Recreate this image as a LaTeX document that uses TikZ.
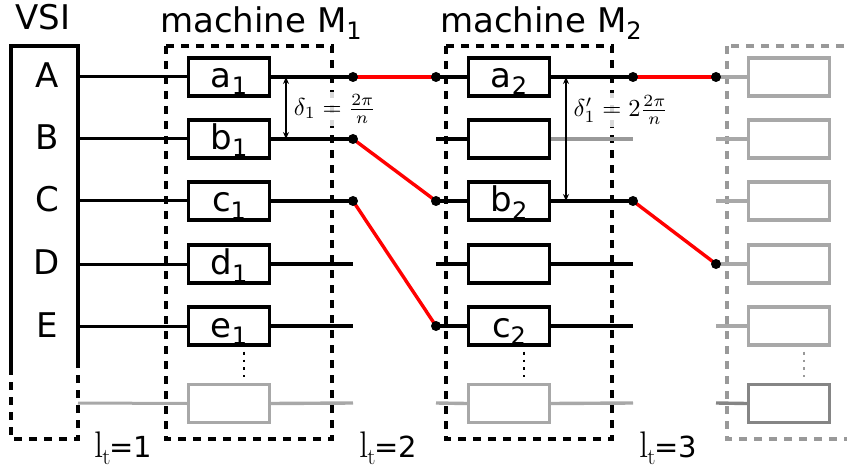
\documentclass[tikz,border=0pt]{standalone}
\usepackage{fontspec}
\setsansfont{DejaVu Sans}
\usetikzlibrary{arrows.meta}
\definecolor{lgray}{HTML}{A8A8A8}
\definecolor{mgray}{HTML}{999999}
\definecolor{dgray}{HTML}{858585}
\newcommand\lowsub[1]{\raisebox{-7pt}{\fontsize{24}{24}\selectfont #1}}
\newcommand\ltlabel[1]{{\rmfamily\fontsize{37}{37}\selectfont l\kern-1pt\raisebox{-7pt}{\fontsize{23}{23}\selectfont t}}\kern-1pt{\sffamily\fontsize{29}{29}\selectfont =#1}}
\begin{document}
\begin{tikzpicture}[x=1pt,y=-1pt,
  box/.style={draw, line width=3.4pt, minimum width=81pt, minimum height=38pt, inner sep=0pt,
    text height=26pt, text depth=4pt, font=\sffamily\fontsize{34}{34}\selectfont},
  wire/.style={line width=3.4pt},
  thinwire/.style={line width=3pt},
  redwire/.style={draw=red, line width=3.4pt},
  dot/.style={circle, fill=black, inner sep=0pt, minimum size=10pt},
  frame/.style={draw, line width=3.4pt, dash pattern=on 8pt off 7pt},
  dotline/.style={line width=2.8pt, dash pattern=on 2.8pt off 5pt, shorten <=5pt, shorten >=6pt},
  lbl/.style={font=\sffamily\fontsize{34}{34}\selectfont, inner sep=0pt, anchor=base west},
  rowlbl/.style={font=\sffamily\fontsize{34}{34}\selectfont, inner sep=0pt, anchor=base},
  mathlbl/.style={fill=white, fill opacity=0.85, text opacity=1, inner sep=1pt, scale=2.45},
  darr/.style={{Stealth[length=7pt,width=6pt]}-{Stealth[length=7pt,width=6pt]}, line width=2pt},
]
\useasboundingbox (0,0) rectangle (847,468);

% titles
\node[lbl] (tvsi) at (15,30) {VSI};
\node[lbl] (tm1) at (160,33) {machine M\lowsub{1}};
\node[lbl] (tm2) at (440,33) {machine M\lowsub{2}};

% VSI box
\draw[line width=3.4pt] (11,367) -- (11,46) -- (78,46) -- (78,367);
\draw[frame] (11,367) -- (11,439) -- (78,439) -- (78,367);
\node[rowlbl] (la) at (47,88) {A};
\node[rowlbl] (lb) at (47,150) {B};
\node[rowlbl] (lc) at (47,212) {C};
\node[rowlbl] (ld) at (47,275) {D};
\node[rowlbl] (le) at (47,337) {E};

% machine frames
\draw[frame] (166,46) rectangle (332,439);
\draw[frame] (446,46) rectangle (612,439);
\draw[frame, draw=mgray] (727,46) rectangle (880,439);

% coordinates
\foreach \r/\y in {a/77,b/139,c/201,d/264,e/326,f/403}{
  \coordinate (v\r) at (78,\y);
  \coordinate (o1\r) at (353,\y);
  \coordinate (i2\r) at (436,\y);
  \coordinate (o2\r) at (633,\y);
  \coordinate (i3\r) at (716,\y);
}

% machine 1 boxes
\node[box] (m1a) at (229,77) {a\lowsub{1}};
\node[box] (m1b) at (229,139) {b\lowsub{1}};
\node[box] (m1c) at (229,201) {c\lowsub{1}};
\node[box] (m1d) at (229,264) {d\lowsub{1}};
\node[box] (m1e) at (229,326) {e\lowsub{1}};
\node[box, draw=lgray] (m1f) at (229,403.5) {};

% machine 2 boxes
\node[box] (m2a) at (509,77) {a\lowsub{2}};
\node[box] (m2b) at (509,139) {};
\node[box] (m2c) at (509,201) {b\lowsub{2}};
\node[box] (m2d) at (509,264) {};
\node[box] (m2e) at (509,326) {c\lowsub{2}};
\node[box, draw=lgray] (m2f) at (509,403.5) {};

% machine 3 boxes
\foreach \r/\y in {a/77,b/139,c/201,d/264,e/326}{
  \node[box, draw=lgray] (m3\r) at (789,\y) {};
}
\node[box, draw=dgray] (m3f) at (789,403.5) {};

% wires VSI -> M1, M1 -> out, in -> M2
\foreach \r in {a,b,c,d,e}{
  \draw[thinwire] (v\r) -- (m1\r.west);
  \draw[wire] (m1\r.east) -- (o1\r);
  \draw[wire] (i2\r) -- (m2\r.west);
}
\draw[thinwire, draw=lgray] (vf) -- (m1f.west);
\draw[wire, draw=lgray] (m1f.east) -- (o1f);
\draw[wire, draw=lgray] (i2f) -- (m2f.west);
% M2 right
\foreach \r in {a,c,d,e}{
  \draw[wire] (m2\r.east) -- (o2\r);
}
\draw[wire, draw=mgray] (m2b.east) -- (o2b);
\draw[wire, draw=lgray] (m2f.east) -- (o2f);
% M3 left
\foreach \r in {a,b,c,d,e}{
  \draw[wire, draw=lgray] (i3\r) -- (m3\r.west);
}
\draw[wire, draw=dgray] (i3f) -- (m3f.west);

% red connections
\draw[redwire] (o1a) -- (i2a);
\draw[redwire] (o1b) -- (i2c);
\draw[redwire] (o1c) -- (i2e);
\draw[redwire] (o2a) -- (i3a);
\draw[redwire] (o2c) -- (i3d);

% dots
\foreach \p in {o1a,o1b,o1c,i2a,i2c,i2e,o2a,o2c,i3a,i3d}{
  \node[dot] (d\p) at (\p) {};
}

% vertical dots
\draw[dotline] ([xshift=15pt]m1e.south) -- ([xshift=15pt]m1f.north);
\draw[dotline] ([xshift=15pt]m2e.south) -- ([xshift=15pt]m2f.north);
\draw[dotline, draw=mgray] ([xshift=15pt]m3e.south) -- ([xshift=15pt]m3f.north);

% delta arrows
\coordinate (da1) at (286,77);
\coordinate (db1) at (286,139);
\coordinate (da2) at (566,77);
\coordinate (db2) at (566,201);
\draw[darr] (da1) -- (db1);
\draw[darr] (da2) -- (db2);
\node[mathlbl] (del1) at (335,109) {$\delta_1=\frac{2\pi}{n}$};
\node[mathlbl] (del2) at (621,110) {$\delta_1'=2\frac{2\pi}{n}$};

% l_t labels
\node[inner sep=0pt, anchor=base west] (lt1) at (94,457) {\ltlabel{1}};
\node[inner sep=0pt, anchor=base west] (lt2) at (359,457) {\ltlabel{2}};
\node[inner sep=0pt, anchor=base west] (lt3) at (639,457) {\ltlabel{3}};
\end{tikzpicture}
\end{document}
